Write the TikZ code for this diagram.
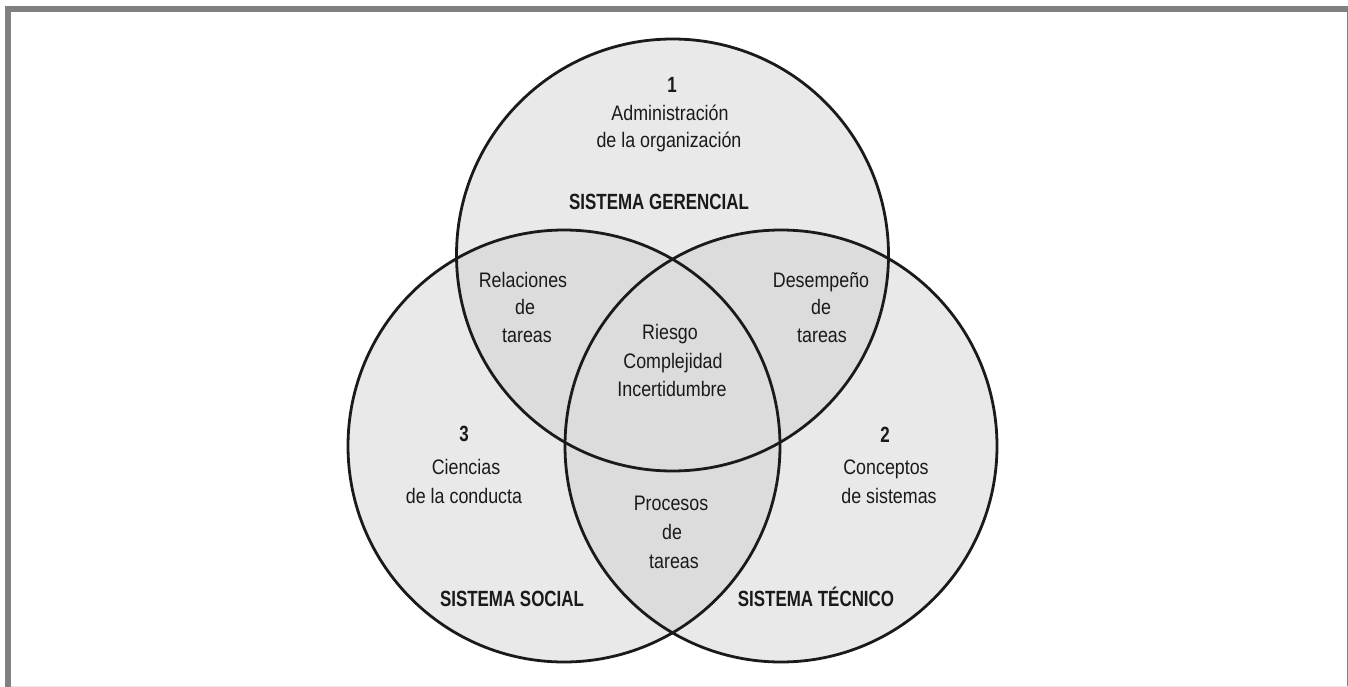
\documentclass[tikz,border=0pt]{standalone}
\usepackage{fontspec}
\setmainfont{Liberation Sans}[FakeStretch=0.85, BoldFeatures={FakeStretch=0.77}]
\definecolor{framegray}{HTML}{808080}
\definecolor{rimgray}{HTML}{E6E6E6}
\definecolor{discfill}{HTML}{E9E9E9}
\definecolor{lensfill}{HTML}{DCDCDC}
\definecolor{ink}{HTML}{1C1919}
\begin{document}
\begin{tikzpicture}[x=1pt,y=-1pt,
  ring/.style={draw=ink, line width=2.8pt},
  txt/.style={anchor=base, inner sep=0pt, text=ink, font=\fontsize{21}{25}\selectfont},
  hd/.style={anchor=base, inner sep=0pt, text=ink, font=\fontsize{22}{26}\selectfont\bfseries}]
\useasboundingbox (0,0) rectangle (1348,687);

% outer frame
\fill[framegray] (5,6) rectangle (1348,12);
\fill[framegray] (5,6) rectangle (10.5,687);
\draw[framegray, line width=1.2pt] (1347.3,12) -- (1347.3,687);
\draw[rimgray, line width=1.2pt] (10.5,686.3) -- (1348,686.3);

% circle centres
\coordinate (cG) at (672.5,255);
\coordinate (cS) at (564,446);
\coordinate (cT) at (781,446);
\def\rad{216}

% discs
\fill[discfill] (cG) circle[radius=\rad];
\fill[discfill] (cS) circle[radius=\rad];
\fill[discfill] (cT) circle[radius=\rad];

% overlaps
\begin{scope}
  \clip (cG) circle[radius=\rad];
  \fill[lensfill] (cS) circle[radius=\rad];
  \fill[lensfill] (cT) circle[radius=\rad];
\end{scope}
\begin{scope}
  \clip (cS) circle[radius=\rad];
  \fill[lensfill] (cT) circle[radius=\rad];
\end{scope}

% outlines
\draw[ring] (cG) circle[radius=\rad];
\draw[ring] (cS) circle[radius=\rad];
\draw[ring] (cT) circle[radius=\rad];

% management system
\node[hd]  (n1)   at (672,93)  {1};
\node[txt] (adm)  at (670,121) {Administración};
\node[txt] (org)  at (669,148) {de la organización};
\node[hd]  (sg)   at (659,209) {SISTEMA GERENCIAL};

% task relations
\node[txt] (rel1) at (523,287) {Relaciones};
\node[txt] (rel2) at (525,314) {de};
\node[txt] (rel3) at (527,342) {tareas};

% task performance
\node[txt] (des1) at (821,287) {Desempeño};
\node[txt] (des2) at (821,314) {de};
\node[txt] (des3) at (822,342) {tareas};

% centre
\node[txt] (rie)  at (670,339) {Riesgo};
\node[txt] (com)  at (673,368) {Complejidad};
\node[txt] (inc)  at (672,396) {Incertidumbre};

% behavioural sciences
\node[hd]  (n3)   at (464,441) {3};
\node[txt] (cie1) at (466,474) {Ciencias};
\node[txt] (cie2) at (464,503) {de la conducta};

% systems concepts
\node[hd]  (n2)   at (885,442) {2};
\node[txt] (con1) at (886,474) {Conceptos};
\node[txt] (con2) at (889,503) {de sistemas};

% task processes
\node[txt] (pro1) at (671,510) {Procesos};
\node[txt] (pro2) at (672,539) {de};
\node[txt] (pro3) at (674,568) {tareas};

% social and technical systems
\node[hd]  (ss)   at (512,606) {SISTEMA SOCIAL};
\node[hd]  (st)   at (816,606) {SISTEMA TÉCNICO};
\end{tikzpicture}
\end{document}
